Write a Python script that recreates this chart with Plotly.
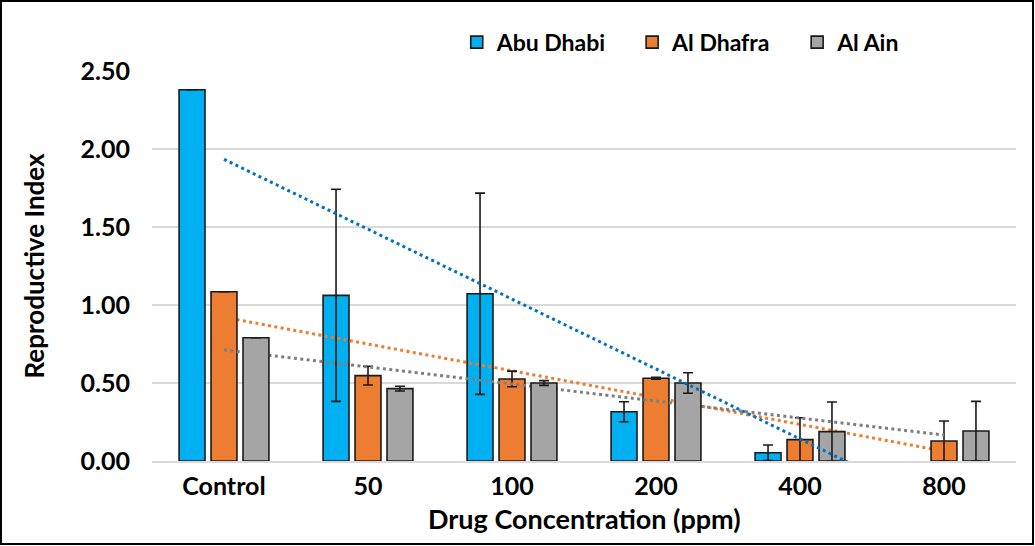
import numpy as np
import plotly.graph_objects as go

# ---- data ----
categories = ["Control", "50", "100", "200", "400", "800"]
series_names = ["Abu Dhabi", "Al Dhafra", "Al Ain"]
abu_dhabi = [2.38, 1.062, 1.072, 0.316, 0.053, 0.0]
al_dhafra = [1.085, 0.547, 0.526, 0.530, 0.137, 0.128]
al_ain = [0.79, 0.464, 0.50, 0.50, 0.188, 0.192]
abu_dhabi_err = [None, 0.68, 0.645, 0.064, 0.05, None]
al_dhafra_err = [None, 0.06, 0.05, 0.006, 0.14, 0.128]
al_ain_err = [None, 0.015, 0.015, 0.066, 0.19, 0.19]
y_ticks = [0, 0.5, 1.0, 1.5, 2.0, 2.5]
x_title = "Drug Concentration (ppm)"
y_title = "Reproductive Index"

# ---- styles ----
FONT = "Lato"
bar_colors = ["#00B0F0", "#ED7D31", "#A5A5A5"]
trend_colors = ["#0070C0", "#ED7D31", "#7F7F7F"]
slot = 0.222
bw = 0.18
offsets = [-slot - bw / 2, -bw / 2, slot - bw / 2]


def trend(vals):
    idx = np.arange(1, len(vals) + 1)
    m, b = np.polyfit(idx, np.array(vals, dtype=float), 1)
    return [m * idx[0] + b, m * idx[-1] + b]


def bar(i, vals, errs, ax):
    shown = [v if v > 0 else None for v in vals]  # zero-height bars are not drawn
    return go.Bar(
        x=categories, y=shown, name=series_names[i],
        width=bw, offset=offsets[i],
        marker=dict(color=bar_colors[i], line=dict(color="#1a1a1a", width=1.6)),
        error_y=dict(type="data", array=errs, visible=True, color="#1a1a1a",
                     thickness=1.6, width=5),
        xaxis="x" + ax, yaxis="y" + ax,
        legend="legend" if i == 0 else "legend%d" % (i + 1),
        showlegend=True,
    )


def trend_line(i, vals, ax):
    return go.Scatter(
        x=[categories[0], categories[-1]], y=trend(vals), mode="lines",
        line=dict(color=trend_colors[i], width=3, dash="3px,3.4px"),
        xaxis="x" + ax, yaxis="y" + ax, showlegend=False, hoverinfo="skip",
    )


fig = go.Figure()
# layer 1
fig.add_trace(bar(0, abu_dhabi, abu_dhabi_err, ""))
# layer 2
fig.add_trace(trend_line(1, al_dhafra, "2"))
# layer 3
fig.add_trace(bar(1, al_dhafra, al_dhafra_err, "3"))
fig.add_trace(trend_line(2, al_ain, "3"))
# layer 4
fig.add_trace(bar(2, al_ain, al_ain_err, "4"))
fig.add_trace(trend_line(0, abu_dhabi, "4"))

tick_font = dict(family=FONT, size=25, color="#000000", weight="bold")

fig.update_layout(
    width=1035, height=546,
    margin=dict(l=152, r=19, t=71, b=85),
    paper_bgcolor="white", plot_bgcolor="white",
    barmode="overlay",
    font=dict(family=FONT, color="#000000"),
    xaxis=dict(type="category", categoryorder="array", categoryarray=categories,
               range=[-0.5, 5.5], showgrid=False, zeroline=False,
               showline=True, linecolor="#D9D9D9", linewidth=1.5,
               ticks="", tickfont=tick_font, ticklabelstandoff=2),
    yaxis=dict(range=[0, 2.5], tickvals=y_ticks, tickformat=".2f",
               showgrid=True, gridcolor="#D9D9D9", gridwidth=1.5,
               zeroline=False, showline=False, ticks="",
               tickfont=tick_font, ticklabelstandoff=21,
               title=dict(text=y_title, standoff=28,
                          font=dict(family=FONT, size=26, color="#000000", weight="bold"))),
)
for k in ["2", "3", "4"]:
    fig.update_layout({
        "xaxis" + k: dict(type="category", categoryorder="array", categoryarray=categories,
                          overlaying="x", matches="x", visible=False, range=[-0.5, 5.5]),
        "yaxis" + k: dict(overlaying="y", matches="y", visible=False, range=[0, 2.5]),
    })

# x-axis title as annotation (sits closer to tick labels than a title can)
fig.add_annotation(text=x_title, xref="paper", yref="paper", x=0.5, y=-0.1487,
                   xanchor="center", yanchor="middle", showarrow=False,
                   font=dict(family=FONT, size=27, color="#000000", weight="bold"))

leg_font = dict(family=FONT, size=23, color="#000000", weight="bold")
leg_x = [0.3527, 0.5557, 0.7467]
for i in range(3):
    key = "legend" if i == 0 else "legend%d" % (i + 1)
    fig.update_layout({key: dict(orientation="h", x=leg_x[i], y=1.074, xanchor="left",
                                 yanchor="middle", bgcolor="rgba(0,0,0,0)",
                                 font=leg_font, itemwidth=30)})

# outer frame
fig.add_shape(type="rect", xref="paper", yref="paper",
              x0=-0.1748, x1=1.0197, y0=-0.2128, y1=1.1795,
              line=dict(color="#000000", width=2))

fig.write_html("out.html", config={"displayModeBar": False},
               post_script="document.body.style.margin='0px';")
